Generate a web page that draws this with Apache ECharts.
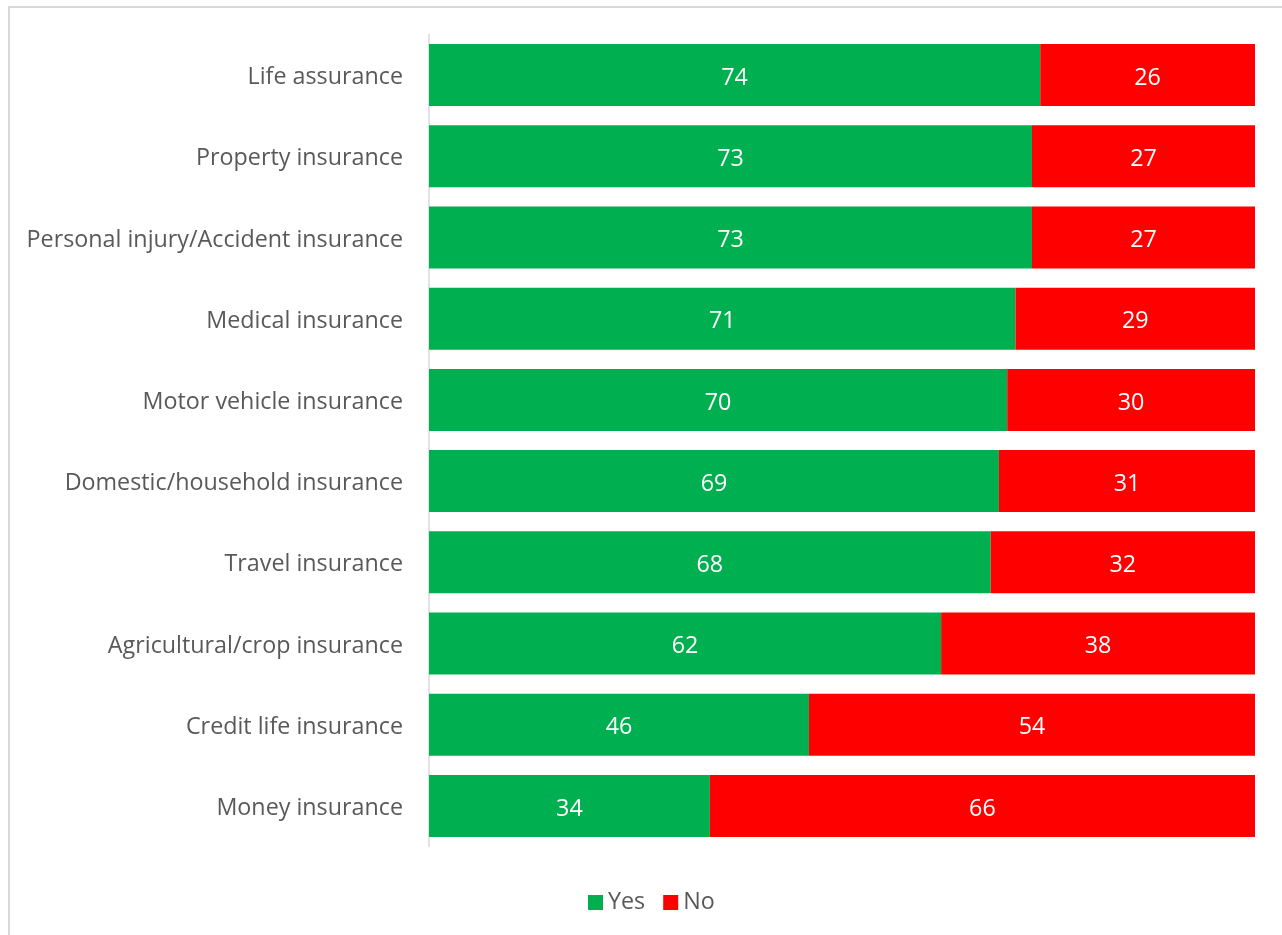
<!DOCTYPE html>
<html>
<head>
<meta charset="utf-8">
<script src="https://cdn.jsdelivr.net/npm/echarts@6/dist/echarts.min.js"></script>
<style>
  html, body { margin: 0; padding: 0; background: #fff; }
  #frame { position: absolute; left: 8px; top: 6px; width: 1300px; height: 960px;
           border: 2px solid #d9d9d9; box-sizing: border-box; }
  #chart { position: absolute; left: 0; top: 0; width: 1282px; height: 935px; }
</style>
</head>
<body>
<div id="frame"></div>
<div id="chart"></div>
<script>
// Share of respondents answering Yes / No for each insurance type (%)
const categories = [
  'Life assurance',
  'Property insurance',
  'Personal injury/Accident insurance',
  'Medical insurance',
  'Motor vehicle insurance',
  'Domestic/household insurance',
  'Travel insurance',
  'Agricultural/crop insurance',
  'Credit life insurance',
  'Money insurance'
];
const yesValues = [74, 73, 73, 71, 70, 69, 68, 62, 46, 34];
const noValues  = [26, 27, 27, 29, 30, 31, 32, 38, 54, 66];

const FONT = 'Open Sans';
const SIZE = 23.3;
const chart = echarts.init(document.getElementById('chart'), null, { renderer: 'canvas' });

const barLabel = {
  show: true,
  position: 'inside',
  color: '#ffffff',
  fontFamily: FONT,
  fontSize: SIZE,
  offset: [0, 3]
};

chart.setOption({
  animation: false,
  grid: { left: 429, right: 27, top: 34.5, bottom: 88.5, containLabel: false },
  legend: {
    data: ['Yes', 'No'],
    bottom: 16,
    left: 583,
    itemWidth: 15,
    itemHeight: 15,
    itemGap: 18,
    icon: 'rect',
    textStyle: { color: '#595959', fontFamily: FONT, fontSize: SIZE }
  },
  xAxis: {
    type: 'value',
    min: 0,
    max: 100,
    show: false
  },
  yAxis: {
    type: 'category',
    data: categories,
    inverse: true,
    axisLine: { show: true, lineStyle: { color: '#d9d9d9', width: 1.5 } },
    axisTick: { show: false },
    axisLabel: {
      margin: 26,
      formatter: '{c|{value}}',
      rich: {
        c: {
          color: '#595959', fontFamily: FONT, fontSize: SIZE,
          padding: [5, 0, 0, 0]
        }
      }
    }
  },
  series: [
    {
      name: 'Yes',
      type: 'bar',
      stack: 'total',
      data: yesValues,
      barCategoryGap: '23.6%',
      itemStyle: { color: '#00b050' },
      label: barLabel
    },
    {
      name: 'No',
      type: 'bar',
      stack: 'total',
      data: noValues,
      itemStyle: { color: '#ff0000' },
      label: barLabel
    }
  ]
});
</script>
</body>
</html>
